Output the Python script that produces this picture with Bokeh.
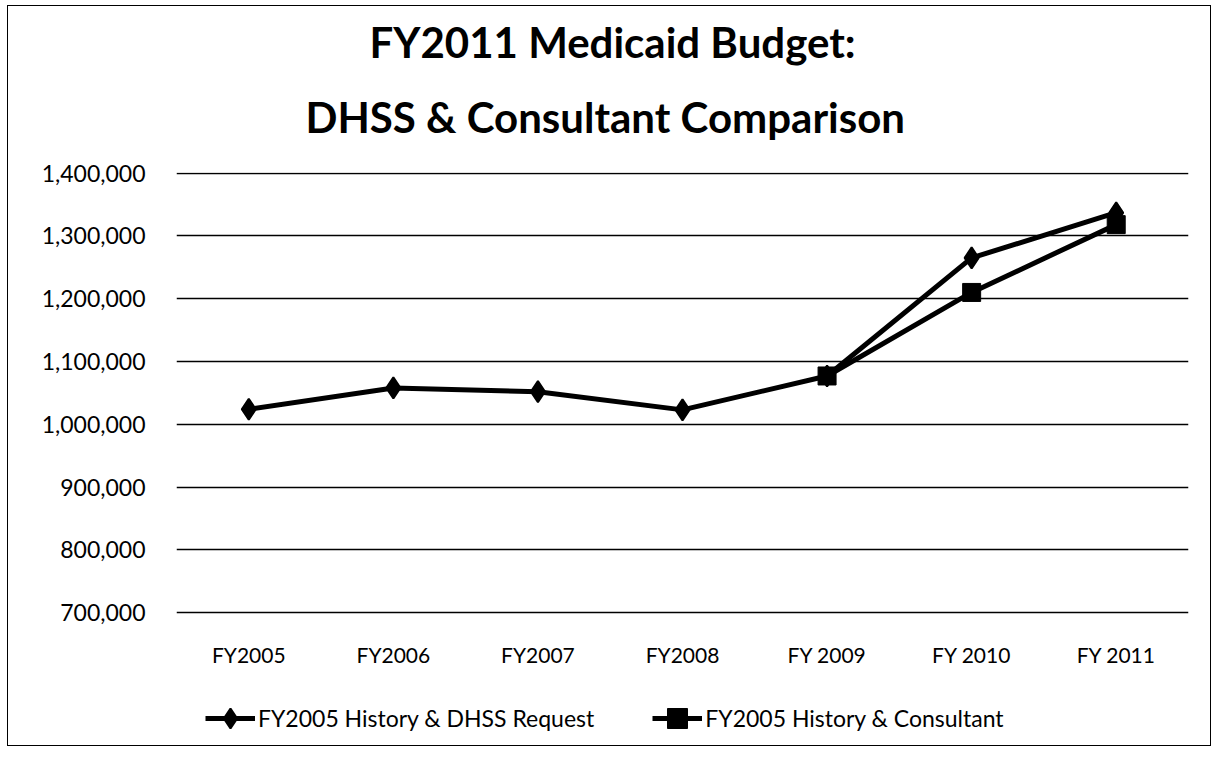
from bokeh.plotting import figure
from bokeh.models import ColumnDataSource, FactorRange, Range1d, Legend, LegendItem, NumeralTickFormatter, FixedTicker, Title
from bokeh.core.properties import value
from bokeh.embed import file_html
from bokeh.resources import INLINE
import numpy as np

categories = ["FY2005", "FY2006", "FY2007", "FY2008", "FY 2009", "FY 2010", "FY 2011"]
dhss_request = [1024000, 1058000, 1052000, 1023000, 1077000, 1265000, 1337000]
consultant = [np.nan, np.nan, np.nan, np.nan, 1077000, 1210000, 1318000]
y_ticks = [700000, 800000, 900000, 1000000, 1100000, 1200000, 1300000, 1400000]

FONT = "Lato"
LABEL_Y = 633000      # vertical position of the category labels (below the 700,000 line)

src = ColumnDataSource(dict(x=categories, dhss=dhss_request, cons=consultant))
lab = ColumnDataSource(dict(x=categories, y=[LABEL_Y] * len(categories), t=categories))

p = figure(width=1204, height=741, output_backend="svg", toolbar_location=None,
           x_range=FactorRange(*categories, range_padding=0),
           y_range=Range1d(488600, 1401000),
           min_border_left=168, min_border_right=24, min_border_top=166, min_border_bottom=2)
p.styles = {"border": "1px solid black", "margin-left": "7px", "margin-top": "5px"}

p.add_layout(Title(text="DHSS & Consultant Comparison",
                   align="left", text_font=FONT, text_font_size="42px",
                   text_font_style="bold", text_color="black",
                   offset=129, standoff=62), "above")
p.add_layout(Title(text="FY2011 Medicaid Budget:",
                   align="left", text_font=FONT, text_font_size="42px",
                   text_font_style="bold", text_color="black",
                   offset=193, standoff=-17), "above")

p.outline_line_color = None
p.xgrid.grid_line_color = None
p.ygrid.grid_line_color = "black"
p.ygrid.grid_line_width = 1.6
p.ygrid.ticker = FixedTicker(ticks=y_ticks)

p.xaxis.visible = False
p.yaxis.ticker = FixedTicker(ticks=y_ticks)
p.yaxis.formatter = NumeralTickFormatter(format="0,0")
p.yaxis.axis_line_color = None
p.yaxis.major_tick_line_color = None
p.yaxis.minor_tick_line_color = None
p.yaxis.major_label_text_font = FONT
p.yaxis.major_label_text_color = "black"
p.yaxis.major_label_text_font_size = "23px"
p.yaxis.major_label_standoff = 25

p.text("x", "y", text="t", source=lab, text_font=value(FONT), text_font_size="21px",
       text_color="black", text_align="center", text_baseline="middle")

r1 = p.line("x", "dhss", source=src, line_color="black", line_width=5)
m1 = p.scatter("x", "dhss", source=src, marker="diamond", size=21, color="black", line_width=2)
r2 = p.line("x", "cons", source=src, line_color="black", line_width=5)
m2 = p.scatter("x", "cons", source=src, marker="square", size=18, color="black")

legend = Legend(items=[LegendItem(label="FY2005 History & DHSS Request", renderers=[r1, m1]),
                       LegendItem(label="FY2005 History & Consultant", renderers=[r2, m2])],
                orientation="horizontal", location=(29, 2),
                label_text_font=FONT, label_text_font_size="23px", label_text_color="black",
                glyph_width=50, glyph_height=50, label_height=50, spacing=58, label_standoff=3,
                border_line_color=None, background_fill_alpha=0, margin=0, padding=0)
p.add_layout(legend, "center")

open("out.html", "w").write(file_html(p, INLINE))
